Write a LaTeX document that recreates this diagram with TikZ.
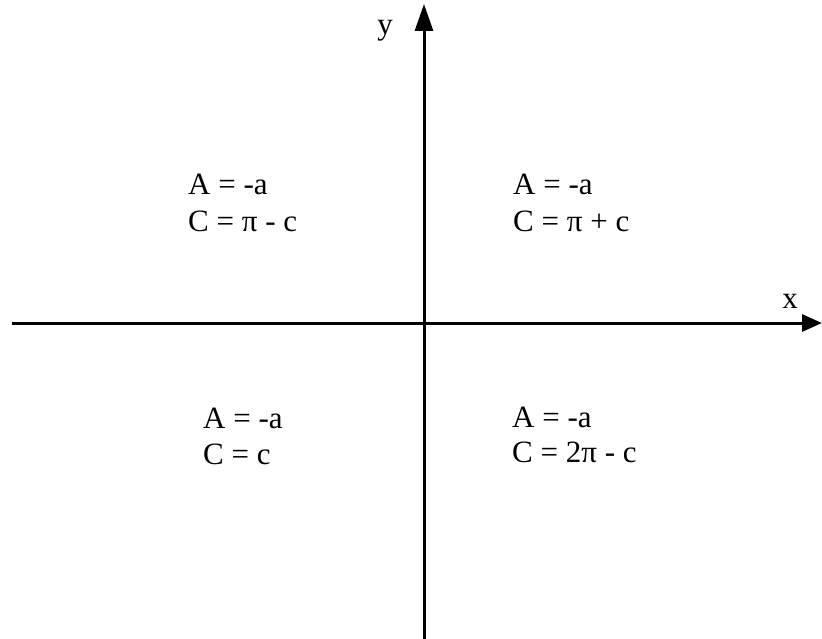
\documentclass[tikz,border=0pt]{standalone}
\usepackage{fontspec}
\setmainfont{Liberation Serif}
\usetikzlibrary{arrows.meta}
\begin{document}
\begin{tikzpicture}[x=1pt,y=-1pt,
  axis/.style={line width=3pt},
  lbl/.style={anchor=base west,inner sep=0pt,font=\fontsize{31}{37}\selectfont},
  axlbl/.style={anchor=base,inner sep=0pt,font=\fontsize{31}{37}\selectfont}]
\useasboundingbox (0,0) rectangle (822,639);
\coordinate (xs) at (12,323);
\coordinate (xe) at (822,323);
\coordinate (ys) at (424,639);
\coordinate (ye) at (424,4);
\draw[axis,-{Triangle[length=20pt,width=17pt]}] (xs) -- (xe);
\draw[axis,-{Triangle[length=27pt,width=18pt]}] (ys) -- (ye);
\node[axlbl] (ylab) at (385,35) {y};
\node[axlbl] (xlab) at (790,308) {x};
\node[lbl] (q2a) at (188,195) {A = -a};
\node[lbl] (q2c) at (188,232) {C = π - c};
\node[lbl] (q1a) at (513,195) {A = -a};
\node[lbl] (q1c) at (513,232) {C = π + c};
\node[lbl] (q3a) at (203,428) {A = -a};
\node[lbl] (q3c) at (203,464) {C = c};
\node[lbl] (q4a) at (512,427) {A = -a};
\node[lbl] (q4c) at (512,462) {C = 2π - c};
\end{tikzpicture}
\end{document}
